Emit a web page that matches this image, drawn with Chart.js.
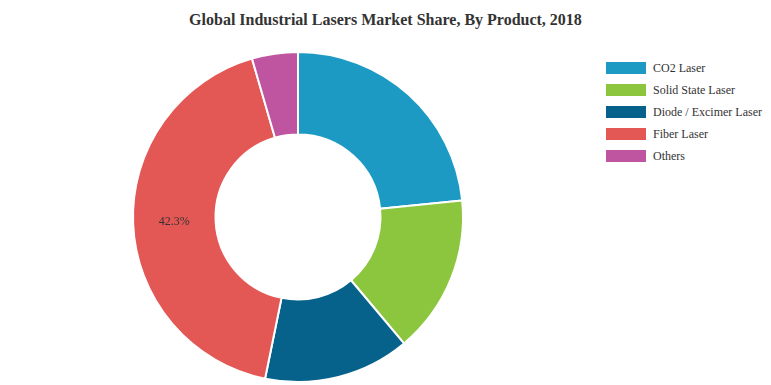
<!DOCTYPE html>
<html>
<head>
<meta charset="utf-8">
<script src="https://cdn.jsdelivr.net/npm/chart.js@4"></script>
<style>
  body { margin: 0; background: #fff; }
  #wrap { position: relative; width: 771px; height: 385px; font-family: "Liberation Serif", "Times New Roman", serif; }
  #title { position: absolute; top: 11px; left: 0; width: 771px; text-align: center; font-size: 16px; font-weight: bold; color: #333; }
  #pieBox { position: absolute; left: 0; top: 51px; width: 596px; height: 332px; }
  #legend { position: absolute; left: 606px; top: 61px; font-size: 12px; color: #333; }
  .item { height: 22px; display: flex; align-items: flex-start; }
  .box { width: 40px; height: 12px; margin-right: 7px; margin-top: 1px; }
</style>
</head>
<body>
<div id="wrap">
  <div id="title">Global Industrial Lasers Market Share, By Product, 2018</div>
  <div id="pieBox"><canvas id="myPie"></canvas></div>
  <div id="legend"></div>
</div>
<script>
// chart data
const products = ['CO2 Laser', 'Solid State Laser', 'Diode / Excimer Laser', 'Fiber Laser', 'Others'];
const shares = [23.4, 15.5, 14.3, 42.3, 4.5];
const colors = ['#1c9ac4', '#8cc63f', '#06628a', '#e35755', '#bf55a0'];
const shownLabels = ['', '', '', '42.3%', ''];

/**
 * Draws the percent label in the middle of a slice
 */
const sliceLabels = {
    id: 'sliceLabels',
    afterDatasetsDraw(chart) {
        const ctx = chart.ctx;
        const meta = chart.getDatasetMeta(0);
        ctx.save();
        ctx.font = '12px "Liberation Serif", serif';
        ctx.fillStyle = '#333';
        ctx.textAlign = 'center';
        ctx.textBaseline = 'middle';
        meta.data.forEach((arc, i) => {
            if (!shownLabels[i]) return;
            const p = arc.getCenterPoint();
            ctx.fillText(shownLabels[i], p.x, p.y);
        });
        ctx.restore();
    }
};

function initPieChart() {
    const ctx = document.getElementById('myPie').getContext('2d');
    new Chart(ctx, {
        type: 'doughnut',
        data: {
            labels: products,
            datasets: [{
                data: shares,
                backgroundColor: colors,
                borderColor: '#fff',
                borderWidth: 2
            }]
        },
        options: {
            responsive: true,
            maintainAspectRatio: false,
            animation: false,
            cutout: '50%',
            layout: { padding: 0 },
            plugins: {
                legend: { display: false },
                tooltip: { enabled: false }
            }
        },
        plugins: [sliceLabels]
    });

    const legend = document.getElementById('legend');
    products.forEach((name, i) => {
        const row = document.createElement('div');
        row.className = 'item';
        row.innerHTML = '<div class="box" style="background:' + colors[i] + '"></div><span>' + name + '</span>';
        legend.appendChild(row);
    });
}

document.addEventListener('DOMContentLoaded', initPieChart);
</script>
</body>
</html>
